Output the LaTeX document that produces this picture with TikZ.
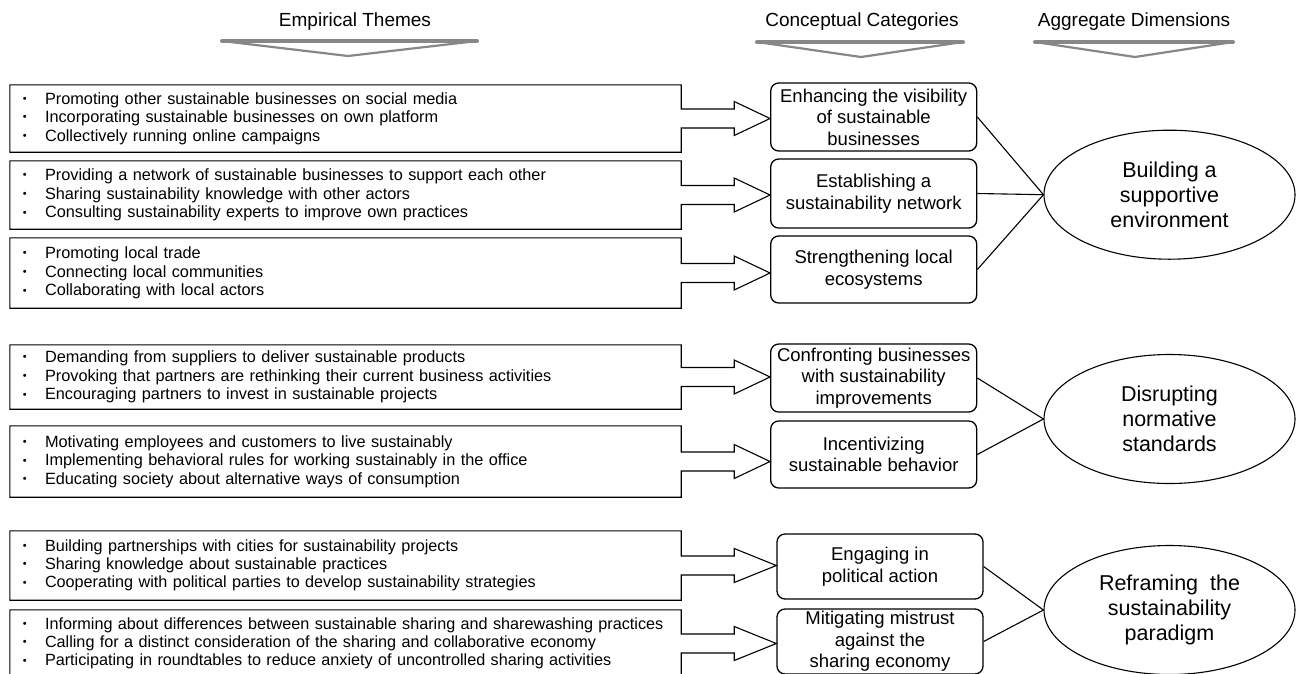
\documentclass[tikz,border=0pt]{standalone}
\usepackage{fontspec}
\setmainfont{Liberation Sans}
\usetikzlibrary{shapes.geometric,calc}
\definecolor{hdrgray}{RGB}{135,135,135}
\newcommand{\itm}[1]{\makebox[22pt][l]{\raisebox{0.2ex}{\fontsize{11}{11}\selectfont •}}#1}
\newcommand{\calloutarrow}[2]{\draw[outline] (#1.north east) -- (#1.north west) -- (#1.south west) -- (#1.south east) -- ($(#1.east)+(0,9.5)$) -- ($(#1.east)+(53,9.5)$) -- ($(#1.east)+(53,17)$) -- (#2.west |- #1.east) -- ($(#1.east)+(53,-17)$) -- ($(#1.east)+(53,-9.5)$) -- ($(#1.east)+(0,-9.5)$) -- cycle;}
\begin{document}
\begin{tikzpicture}[x=1pt,y=-1pt,
  emp/.style={rectangle, minimum width=671pt, inner xsep=13pt, inner ysep=0pt, text width=645pt, align=left, font=\fontsize{16.3}{18.7}\selectfont},
  empsmall/.style={emp, font=\fontsize{16.2}{18.3}\selectfont},
  cat/.style={rectangle, rounded corners=8pt, draw, line width=1.3pt, minimum width=206pt, inner sep=0pt, align=center, font=\fontsize{18.5}{21.5}\selectfont},
  dim/.style={ellipse, draw, line width=1.1pt, minimum width=251pt, minimum height=129pt, inner sep=0pt, align=center, font=\fontsize{21.5}{25}\selectfont},
  hdr/.style={font=\fontsize{19}{22}\selectfont, inner sep=0pt},
  outline/.style={line width=1.1pt, line join=miter},
  link/.style={line width=1.1pt},
  hdrtri/.style={draw=hdrgray, line width=2.2pt, fill=white, line join=round},
  hdrbar/.style={draw=hdrgray, line width=4pt, line cap=round}
]
\useasboundingbox (0,0) rectangle (1296,673);

% headers
\node[hdr] (h1) at (355,22) {Empirical Themes};
\node[hdr] (h2) at (862,22) {Conceptual Categories};
\node[hdr] (h3) at (1134,22) {Aggregate Dimensions};
\draw[hdrtri] (222,41) -- (477,41) -- (348,56) -- cycle;
\draw[hdrbar] (222,41) -- (477,41);
\draw[hdrtri] (757,42) -- (963,42) -- (861,57) -- cycle;
\draw[hdrbar] (757,42) -- (963,42);
\draw[hdrtri] (1035,42) -- (1233,42) -- (1135,57) -- cycle;
\draw[hdrbar] (1035,42) -- (1233,42);

% conceptual categories
\node[cat, minimum height=68pt] (c1) at (873.7,117) {Enhancing the visibility\\of sustainable\\businesses};
\node[cat, minimum height=69pt] (c2) at (873.7,193.5) {Establishing a\\sustainability network};
\node[cat, minimum height=67pt] (c3) at (873.7,269.5) {Strengthening local\\ecosystems};
\node[cat, minimum height=68pt] (c4) at (873.7,378) {Confronting businesses\\with sustainability\\improvements};
\node[cat, minimum height=67pt] (c5) at (873.7,454.5) {Incentivizing\\sustainable behavior};
\node[cat, minimum height=65pt] (c6) at (880,566.5) {Engaging in\\political action};
\node[cat, minimum height=65pt] (c7) at (880,641.5) {Mitigating mistrust\\against the\\sharing economy};

% aggregate dimensions
\node[dim] (d1) at (1169.5,194.7) {Building a\\supportive\\environment};
\node[dim] (d2) at (1169.5,419) {Disrupting\\normative\\standards};
\node[dim] (d3) at (1169.5,610) {Reframing\ \ the\\sustainability\\paradigm};

% empirical themes
\node[emp, minimum height=67pt] (e1) at (345.5,118.5) {\itm{Promoting other sustainable businesses on social media}\\\itm{Incorporating sustainable businesses on own platform}\\\itm{Collectively running online campaigns}};
\node[emp, minimum height=68pt] (e2) at (345.5,195) {\itm{Providing a network of sustainable businesses to support each other}\\\itm{Sharing sustainability knowledge with other actors}\\\itm{Consulting sustainability experts to improve own practices}};
\node[emp, minimum height=70pt] (e3) at (345.5,273) {\itm{Promoting local trade}\\\itm{Connecting local communities}\\\itm{Collaborating with local actors}};
\node[emp, minimum height=64pt] (e4) at (345.5,377) {\itm{Demanding from suppliers to deliver sustainable products}\\\itm{Provoking that partners are rethinking their current business activities}\\\itm{Encouraging partners to invest in sustainable projects}};
\node[emp, minimum height=71pt] (e5) at (345.5,461.5) {\itm{Motivating employees and customers to live sustainably}\\\itm{Implementing behavioral rules for working sustainably in the office}\\\itm{Educating society about alternative ways of consumption}};
\node[empsmall, minimum height=69pt] (e6) at (345.5,565.5) {\itm{Building partnerships with cities for sustainability projects}\\\itm{Sharing knowledge about sustainable practices}\\\itm{Cooperating with political parties to develop sustainability strategies}};
\node[empsmall, minimum height=67pt] (e7) at (345.5,643.5) {\itm{Informing about differences between sustainable sharing and sharewashing practices}\\\itm{Calling for a distinct consideration of the sharing and collaborative economy}\\\itm{Participating in roundtables to reduce anxiety of uncontrolled sharing activities}};

% callout arrows
\calloutarrow{e1}{c1}
\calloutarrow{e2}{c2}
\calloutarrow{e3}{c3}
\calloutarrow{e4}{c4}
\calloutarrow{e5}{c5}
\calloutarrow{e6}{c6}
\calloutarrow{e7}{c7}

% links
\draw[link] (c1.east) -- (d1.west);
\draw[link] (c2.east) -- (d1.west);
\draw[link] (c3.east) -- (d1.west);
\draw[link] (c4.east) -- (d2.west);
\draw[link] (c5.east) -- (d2.west);
\draw[link] (c6.east) -- (d3.west);
\draw[link] (c7.east) -- (d3.west);
\end{tikzpicture}
\end{document}
